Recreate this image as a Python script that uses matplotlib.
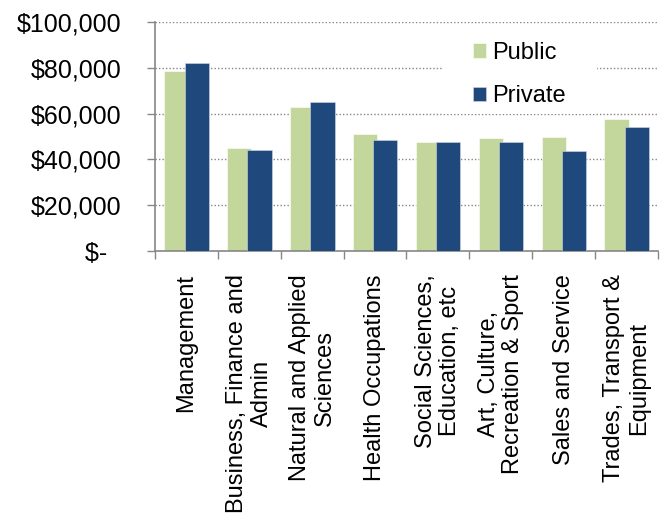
import numpy as np
import matplotlib
matplotlib.use("Agg")
import matplotlib.pyplot as plt
from matplotlib.patches import Rectangle

plt.rcParams['font.family'] = ['Liberation Sans', 'DejaVu Sans']

categories = [
    "Management",
    "Business, Finance and\nAdmin",
    "Natural and Applied\nSciences",
    "Health Occupations",
    "Social Sciences,\nEducation, etc",
    "Art, Culture,\nRecreation & Sport",
    "Sales and Service",
    "Trades, Transport &\nEquipment",
]
public = [78400, 44900, 62900, 50900, 47800, 49300, 49700, 57500]
private = [82200, 43900, 64900, 48400, 47800, 47400, 43600, 54200]
y_ticks = [0, 20000, 40000, 60000, 80000, 100000]
y_labels = ["$-  ", "$20,000", "$40,000", "$60,000", "$80,000", "$100,000"]

green = '#C3D69B'
blue = '#1F497D'
grey = '#868686'

fig = plt.figure(figsize=(6.68, 5.16), dpi=100)
ax = fig.add_axes([0.232, 0.513, 0.753, 0.445])

x = np.arange(len(categories)) + 0.5
w = 0.386
ax.bar(x - 0.158, public, w, color=green, edgecolor='white', linewidth=0.4,
       label='Public', zorder=2)
ax.bar(x + 0.164, private, w, color=blue, edgecolor='#d0d8e4', linewidth=0.4,
       label='Private', zorder=3)

ax.set_xlim(0, len(categories))
ax.set_ylim(0, 100000)
ax.set_yticks(y_ticks)
ax.set_yticklabels(y_labels, fontsize=18)
ax.tick_params(axis='y', length=6, width=1, color=grey, pad=18)

# category ticks sit on the boundaries, labels in the middle
ax.set_xticks(np.arange(len(categories) + 1))
ax.set_xticklabels([])
ax.tick_params(axis='x', length=6, width=1, color=grey)
for xi, lab in zip(x, categories):
    ax.text(xi, -0.1, lab, transform=ax.get_xaxis_transform(), rotation=90,
            ha='center', va='top', multialignment='center', fontsize=17,
            linespacing=1.15)

for y in y_ticks[1:]:
    ax.axhline(y, color=grey, linestyle=(0, (1, 1.5)), linewidth=1, zorder=1)

for s in ['top', 'right']:
    ax.spines[s].set_visible(False)
for s in ['left', 'bottom']:
    ax.spines[s].set_color(grey)
    ax.spines[s].set_linewidth(1.2)

# white box behind the legend, hiding the gridlines there
ax.add_patch(Rectangle((0.571, 0.6), 0.308, 0.375, transform=ax.transAxes,
                       facecolor='white', edgecolor='none', zorder=4))
leg = ax.legend(loc='upper left', bbox_to_anchor=(0.632, 0.912), borderaxespad=0,
                fontsize=17, frameon=False, handlelength=0.55,
                handleheight=0.55, handletextpad=0.25, labelspacing=0.9,
                borderpad=0)
leg.set_zorder(5)

fig.savefig('out.png', dpi=100)
